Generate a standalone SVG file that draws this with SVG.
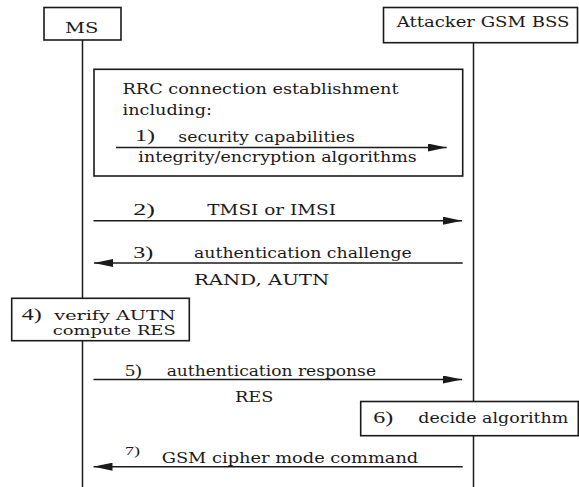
<svg xmlns="http://www.w3.org/2000/svg" width="579" height="487" viewBox="0 0 579 487">
  <style>
    .box { fill: #ffffff; stroke: #1a1a1a; stroke-width: 1.6; }
    .frame { fill: none; stroke: #1a1a1a; stroke-width: 1.6; }
    .life { stroke: #1a1a1a; stroke-width: 1.5; fill: none; }
    .msg { stroke: #1a1a1a; stroke-width: 1.4; fill: none; marker-end: url(#head); }
    text { font-family: "DejaVu Serif", "Liberation Serif", serif; font-size: 14px; fill: #1a1a1a; }
    .num { font-family: "Liberation Serif", serif; font-size: 17px; }
    .num-s { font-family: "Liberation Serif", serif; font-size: 13px; }
    .tight { font-size: 13px; }
  </style>
  <defs>
    <marker id="head" markerUnits="userSpaceOnUse" markerWidth="19" markerHeight="8" viewBox="0 0 19 8" refX="19" refY="4" orient="auto">
      <path d="M0,0 L19,4 L0,8 Z" fill="#1a1a1a"/>
    </marker>
  </defs>
  <rect width="579" height="487" fill="#ffffff"/>

  <!-- lifelines -->
  <g id="lifelines">
    <line class="life" x1="82.5" y1="40" x2="82.5" y2="298.3"/>
    <line class="life" x1="82.5" y1="340.7" x2="82.5" y2="487"/>
    <line class="life" x1="473.5" y1="42.7" x2="473.5" y2="401.5"/>
    <line class="life" x1="473.5" y1="435.7" x2="473.5" y2="487"/>
  </g>

  <!-- participants -->
  <g id="ms">
    <rect class="box" x="44" y="7.5" width="77" height="32.5"/>
    <text x="65" y="33.3" textLength="33.3" lengthAdjust="spacingAndGlyphs">MS</text>
  </g>
  <g id="bss">
    <rect class="box" x="383.5" y="7.5" width="194" height="35.2"/>
    <text x="396.7" y="27" textLength="172.6" lengthAdjust="spacingAndGlyphs">Attacker GSM BSS</text>
  </g>

  <!-- RRC connection establishment frame -->
  <g id="rrc">
    <rect class="frame" x="94" y="69.3" width="368.7" height="106.7"/>
    <text x="122.5" y="93.5" textLength="276" lengthAdjust="spacingAndGlyphs">RRC connection establishment</text>
    <text x="122.5" y="114.5" textLength="89.5" lengthAdjust="spacingAndGlyphs">including:</text>
  </g>

  <!-- messages -->
  <g id="connectors">
    <line class="msg" x1="116" y1="147.5" x2="446.7" y2="147.5"/>
    <line class="msg" x1="93.5" y1="220.7" x2="462" y2="220.7"/>
    <line class="msg" x1="462.7" y1="263" x2="94" y2="263"/>
    <line class="msg" x1="93.5" y1="379.5" x2="462" y2="379.5"/>
    <line class="msg" x1="462.7" y1="466.7" x2="93.5" y2="466.7"/>
  </g>

  <g id="msg1">
    <text class="num" x="135" y="141" textLength="20" lengthAdjust="spacingAndGlyphs">1)</text>
    <text x="178.3" y="141.7" textLength="176.7" lengthAdjust="spacingAndGlyphs">security capabilities</text>
    <text x="138.3" y="161.7" textLength="278.4" lengthAdjust="spacingAndGlyphs">integrity/encryption algorithms</text>
  </g>
  <g id="msg2">
    <text class="num" x="133.3" y="215" textLength="21.7" lengthAdjust="spacingAndGlyphs">2)</text>
    <text x="207.3" y="215.3" textLength="128.7" lengthAdjust="spacingAndGlyphs">TMSI or IMSI</text>
  </g>
  <g id="msg3">
    <text class="num" x="133.3" y="258.3" textLength="20" lengthAdjust="spacingAndGlyphs">3)</text>
    <text x="194" y="258.3" textLength="217.7" lengthAdjust="spacingAndGlyphs">authentication challenge</text>
    <text x="194" y="285" textLength="135.3" lengthAdjust="spacingAndGlyphs">RAND, AUTN</text>
  </g>

  <!-- step 4 on the MS side -->
  <g id="verify">
    <rect class="box" x="11.7" y="298.3" width="177.6" height="42.4"/>
    <text class="num" x="21.7" y="319.5" textLength="20" lengthAdjust="spacingAndGlyphs">4)</text>
    <text class="tight" x="54.3" y="320" textLength="121.4" lengthAdjust="spacingAndGlyphs">verify AUTN</text>
    <text class="tight" x="52.7" y="334.5" textLength="123" lengthAdjust="spacingAndGlyphs">compute RES</text>
  </g>

  <g id="msg5">
    <text class="num" x="125" y="375.7" textLength="16.7" lengthAdjust="spacingAndGlyphs">5)</text>
    <text x="166.7" y="375.7" textLength="209.3" lengthAdjust="spacingAndGlyphs">authentication response</text>
    <text x="235" y="401.7" textLength="38.3" lengthAdjust="spacingAndGlyphs">RES</text>
  </g>

  <!-- step 6 on the BSS side -->
  <g id="decide">
    <rect class="box" x="360.7" y="401.5" width="217.6" height="34.2"/>
    <text class="num" x="373.3" y="423.3" textLength="20" lengthAdjust="spacingAndGlyphs">6)</text>
    <text x="418.3" y="423" textLength="150" lengthAdjust="spacingAndGlyphs">decide algorithm</text>
  </g>

  <g id="msg7">
    <text class="num-s" x="125" y="455" textLength="15" lengthAdjust="spacingAndGlyphs">7)</text>
    <text x="161.7" y="463.3" textLength="256.6" lengthAdjust="spacingAndGlyphs">GSM cipher mode command</text>
  </g>
</svg>
